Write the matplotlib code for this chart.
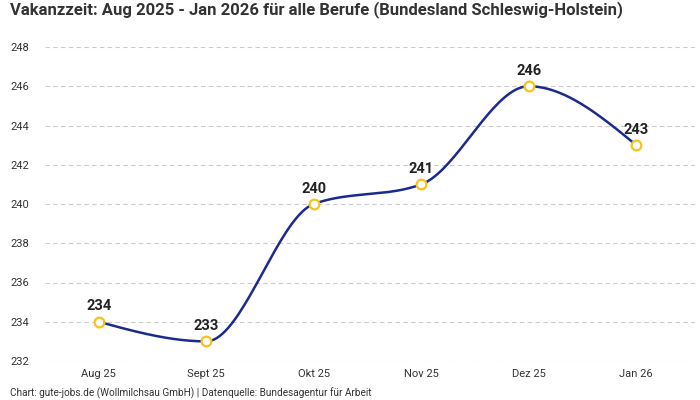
import numpy as np
import matplotlib
matplotlib.use("Agg")
import matplotlib.pyplot as plt

categories = ["Aug 25", "Sept 25", "Okt 25", "Nov 25", "Dez 25", "Jan 26"]
values = [234, 233, 240, 241, 246, 243]
yticks = [232, 234, 236, 238, 240, 242, 244, 246, 248]

title = "Vakanzzeit: Aug 2025 - Jan 2026 für alle Berufe (Bundesland Schleswig-Holstein)"
footer = "Chart: gute-jobs.de (Wollmilchsau GmbH) | Datenquelle: Bundesagentur für Arbeit"

plt.rcParams['font.family'] = ['Roboto', 'DejaVu Sans']


def monotone_x(x, y, n=40):
    x = np.asarray(x, float); y = np.asarray(y, float)
    m = len(x)
    h = np.diff(x); s = np.diff(y) / h
    t = np.zeros(m)
    for i in range(1, m - 1):
        h0, h1 = h[i - 1], h[i]
        s0, s1 = s[i - 1], s[i]
        p = (s0 * h1 + s1 * h0) / (h0 + h1)
        t[i] = (np.sign(s0) + np.sign(s1)) * min(abs(s0), abs(s1), 0.5 * abs(p))
    t[0] = (3 * s[0] - t[1]) / 2
    t[-1] = (3 * s[-1] - t[-2]) / 2
    xs, ys = [], []
    u = np.linspace(0, 1, n)
    for i in range(m - 1):
        dx = x[i + 1] - x[i]
        P0 = np.array([x[i], y[i]])
        P1 = np.array([x[i] + dx / 3, y[i] + dx * t[i] / 3])
        P2 = np.array([x[i + 1] - dx / 3, y[i + 1] - dx * t[i + 1] / 3])
        P3 = np.array([x[i + 1], y[i + 1]])
        B = ((1 - u) ** 3)[:, None] * P0 + (3 * (1 - u) ** 2 * u)[:, None] * P1 \
            + (3 * (1 - u) * u ** 2)[:, None] * P2 + (u ** 3)[:, None] * P3
        xs.extend(B[:, 0]); ys.extend(B[:, 1])
    return np.array(xs), np.array(ys)


fig = plt.figure(figsize=(7, 4), dpi=100)
ax = fig.add_axes([45 / 700, 1 - 361 / 400, 650 / 700, (361 - 47) / 400])

xpos = np.arange(len(categories))
cx, cy = monotone_x(xpos, values)
ax.plot(cx, cy, color="#1b2a8f", lw=1.8, zorder=2)
ax.plot(xpos, values, ls="none", marker="o", ms=7, mfc="white", mec="#f7c31a", mew=1.6, zorder=3)
for xi, v in zip(xpos, values):
    ax.annotate(str(v), (xi, v), xytext=(0, 6), textcoords="offset points",
                ha="center", va="bottom", fontsize=10.5, fontweight="bold", color="#222222")

ax.set_xlim(-0.5, 5.5 + 5 / 107.6)
ax.set_ylim(232, 248)
ax.set_yticks(yticks)
ax.set_yticklabels([str(v) for v in yticks])
ax.set_xticks(xpos)
ax.set_xticklabels(categories)
ax.tick_params(axis="both", length=0, labelsize=8, colors="#333333")
ax.tick_params(axis="y", pad=35 * 0.72)
ax.tick_params(axis="x", pad=8 * 0.72)
for lab in ax.get_yticklabels():
    lab.set_horizontalalignment("left")
ax.grid(axis="y", color="#cccccc", ls=(0, (4, 3)), lw=0.8)
ax.set_axisbelow(True)
for sp in ax.spines.values():
    sp.set_visible(False)

fig.text(10 / 700, 1 - 10 / 400, title, fontsize=12, fontweight="bold", color="#333333", va="center", ha="left")
fig.text(10 / 700, 1 - 393 / 400, footer, fontsize=7.2, color="#333333", va="center", ha="left")

fig.savefig("out.png", dpi=100)
